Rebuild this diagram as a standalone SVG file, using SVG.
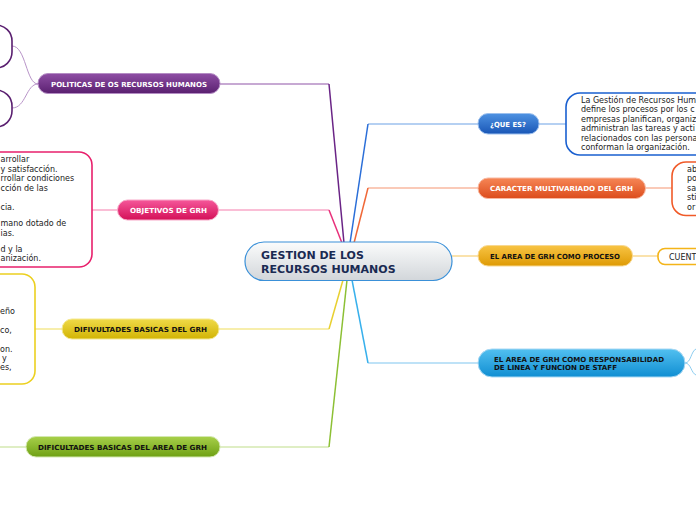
<svg xmlns="http://www.w3.org/2000/svg" width="696" height="520" viewBox="0 0 696 520">
<defs>
<linearGradient id="gC" x1="0" y1="0" x2="0" y2="1"><stop offset="0" stop-color="#fbfcfc"/><stop offset="1" stop-color="#d2d6da"/></linearGradient>
<linearGradient id="gPu" x1="0" y1="0" x2="0" y2="1"><stop offset="0" stop-color="#8e4ea4"/><stop offset="1" stop-color="#5a2070"/></linearGradient>
<linearGradient id="gPi" x1="0" y1="0" x2="0" y2="1"><stop offset="0" stop-color="#f5579a"/><stop offset="1" stop-color="#d41058"/></linearGradient>
<linearGradient id="gYe" x1="0" y1="0" x2="0" y2="1"><stop offset="0" stop-color="#f0da48"/><stop offset="1" stop-color="#d2b404"/></linearGradient>
<linearGradient id="gGr" x1="0" y1="0" x2="0" y2="1"><stop offset="0" stop-color="#a8d04a"/><stop offset="1" stop-color="#6ea014"/></linearGradient>
<linearGradient id="gBl" x1="0" y1="0" x2="0" y2="1"><stop offset="0" stop-color="#4e92e2"/><stop offset="1" stop-color="#1956b6"/></linearGradient>
<linearGradient id="gOr" x1="0" y1="0" x2="0" y2="1"><stop offset="0" stop-color="#f68656"/><stop offset="1" stop-color="#dc4c1c"/></linearGradient>
<linearGradient id="gAm" x1="0" y1="0" x2="0" y2="1"><stop offset="0" stop-color="#f8c444"/><stop offset="1" stop-color="#de9a04"/></linearGradient>
<linearGradient id="gSk" x1="0" y1="0" x2="0" y2="1"><stop offset="0" stop-color="#52c0f0"/><stop offset="1" stop-color="#108ed2"/></linearGradient>
</defs>
<style>
.lbl{font-family:"DejaVu Sans",Verdana,sans-serif;font-weight:bold;font-size:7px;}
.w{fill:#ffffff;}
.k{fill:#111111;}
.body{font-family:"DejaVu Sans",Verdana,sans-serif;font-size:8px;fill:#222222;}
.ln{fill:none;stroke-width:1.5;}
.thin{fill:none;stroke-width:1;}
.leaf{fill:#ffffff;stroke-width:1.6;}
</style>
<g id="connectors">
<path class="ln" stroke="#b48cc4" d="M220,84 H329"/>
<path class="ln" stroke="#6a2486" d="M329,84 L344,243"/>
<path class="ln" stroke="#f8a8c8" d="M218,210 H329"/>
<path class="ln" stroke="#e8307a" d="M329,210 L342,243"/>
<path class="ln" stroke="#f4e890" d="M218,329 H329"/>
<path class="ln" stroke="#e8d030" d="M329,329 L343,280"/>
<path class="ln" stroke="#d4e8b0" d="M220,447 H329"/>
<path class="ln" stroke="#8cc034" d="M329,447 L347,280"/>
<path class="ln" stroke="#9cc0ee" d="M478,124 H368"/>
<path class="ln" stroke="#2a6ed8" d="M368,124 L350,243"/>
<path class="ln" stroke="#f8b8a0" d="M478,188 H368"/>
<path class="ln" stroke="#f06838" d="M368,188 L354,243"/>
<path class="ln" stroke="#f8d890" d="M452,256 H478"/>
<path class="ln" stroke="#a8d8f4" d="M478,363 H368"/>
<path class="ln" stroke="#38b0ec" d="M368,363 L352,280"/>
<path class="thin" stroke="#b894c8" d="M38,84 C26,84 26,46 12,46"/>
<path class="thin" stroke="#b894c8" d="M38,84 C26,84 26,108 12,108"/>
<path class="ln" stroke="#f8a8c8" d="M118,210 H92"/>
<path class="ln" stroke="#f4e890" d="M62,329 H35"/>
<path class="ln" stroke="#d4e8b0" d="M26,447 H0"/>
<path class="ln" stroke="#9cc0ee" d="M539,124 H566"/>
<path class="ln" stroke="#f8b8a0" d="M645,188 H672"/>
<path class="ln" stroke="#f8d890" d="M632,256 H658"/>
<path class="thin" stroke="#8ccdf0" d="M685,363 C691,363 691,351 696,349"/>
<path class="thin" stroke="#8ccdf0" d="M685,363 C691,363 691,373 696,375"/>
</g>
<g id="center">
<rect x="245" y="242" width="207" height="38.5" rx="19" fill="url(#gC)" stroke="#3a90d8" stroke-width="1.2"/>
<text x="261" y="259" font-family="DejaVu Sans,Verdana,sans-serif" font-weight="bold" font-size="11" fill="#1a2a52">GESTION DE LOS</text>
<text x="261" y="272.5" font-family="DejaVu Sans,Verdana,sans-serif" font-weight="bold" font-size="11" fill="#1a2a52">RECURSOS HUMANOS</text>
</g>
<g id="politicas">
<rect x="38" y="73.5" width="182" height="20" rx="10" fill="url(#gPu)" stroke="#b48cc4" stroke-width="1"/>
<text class="lbl w" x="129" y="86.5" text-anchor="middle" textLength="156" lengthAdjust="spacingAndGlyphs">POLITICAS DE OS RECURSOS HUMANOS</text>
</g>
<g id="politicas-leaf1"><rect class="leaf" x="-40" y="25" width="52" height="43" rx="16" stroke="#5a1f70"/></g>
<g id="politicas-leaf2"><rect class="leaf" x="-40" y="90" width="52" height="37" rx="16" stroke="#5a1f70"/></g>
<g id="objetivos">
<rect x="117.5" y="200" width="101" height="20" rx="10" fill="url(#gPi)" stroke="#f8a8c8" stroke-width="1"/>
<text class="lbl w" x="168.5" y="213" text-anchor="middle" textLength="77" lengthAdjust="spacingAndGlyphs">OBJETIVOS DE GRH</text>
</g>
<g id="objetivos-leaf">
<rect class="leaf" x="-30" y="152" width="122" height="115" rx="13" stroke="#e8206c"/>
<text class="body" x="0.5" y="162">arrollar</text>
<text class="body" x="0.5" y="171.5">y satisfacción.</text>
<text class="body" x="0.5" y="181">rrollar condiciones</text>
<text class="body" x="0.5" y="190.5">cción de las</text>
<text class="body" x="0.5" y="209.5">cia.</text>
<text class="body" x="0.5" y="226">mano dotado de</text>
<text class="body" x="0.5" y="235.5">ias.</text>
<text class="body" x="0.5" y="251.5">d y la</text>
<text class="body" x="0.5" y="261">anización.</text>
</g>
<g id="difivultades">
<rect x="62" y="319" width="157" height="20" rx="10" fill="url(#gYe)" stroke="#f4e890" stroke-width="1"/>
<text class="lbl k" x="140.5" y="332" text-anchor="middle" textLength="133" lengthAdjust="spacingAndGlyphs">DIFIVULTADES BASICAS DEL GRH</text>
</g>
<g id="difivultades-leaf">
<rect class="leaf" x="-40" y="274" width="75" height="110" rx="13" stroke="#ecd020"/>
<text class="body" x="0" y="313.5">eño</text>
<text class="body" x="0" y="333">co,</text>
<text class="body" x="0" y="352">on.</text>
<text class="body" x="2" y="360.5">y</text>
<text class="body" x="0" y="370">es,</text>
</g>
<g id="dificultades-area">
<rect x="26" y="436.5" width="194" height="20.5" rx="10" fill="url(#gGr)" stroke="#d4e8b0" stroke-width="1"/>
<text class="lbl k" x="122.5" y="449.5" text-anchor="middle" textLength="169" lengthAdjust="spacingAndGlyphs">DIFICULTADES BASICAS DEL AREA DE GRH</text>
</g>
<g id="que-es">
<rect x="478" y="113.5" width="61" height="20.5" rx="10" fill="url(#gBl)" stroke="#9cc0ee" stroke-width="1"/>
<text class="lbl w" x="508" y="126.5" text-anchor="middle" textLength="36" lengthAdjust="spacingAndGlyphs">¿QUE ES?</text>
</g>
<g id="que-es-leaf">
<rect class="leaf" x="566" y="93" width="160" height="62" rx="14" stroke="#1a60d0"/>
<text class="body" x="581" y="102.5">La Gestión de Recursos Hum</text>
<text class="body" x="581" y="112">define los procesos por los c</text>
<text class="body" x="581" y="121.5">empresas planifican, organiz</text>
<text class="body" x="581" y="131">administran las tareas y acti</text>
<text class="body" x="581" y="140.5">relacionados con las persona</text>
<text class="body" x="581" y="150">conforman la organización.</text>
</g>
<g id="caracter">
<rect x="478" y="178" width="167.5" height="20.5" rx="10" fill="url(#gOr)" stroke="#f8b8a0" stroke-width="1"/>
<text class="lbl w" x="561.5" y="191" text-anchor="middle" textLength="143" lengthAdjust="spacingAndGlyphs">CARACTER MULTIVARIADO DEL GRH</text>
</g>
<g id="caracter-leaf">
<rect class="leaf" x="672" y="162" width="60" height="53.5" rx="14" stroke="#f05a28"/>
<text class="body" x="687" y="171.5">ab</text>
<text class="body" x="687" y="181">po</text>
<text class="body" x="687" y="190.5">sa</text>
<text class="body" x="687" y="200">sti</text>
<text class="body" x="687" y="209.5">or</text>
</g>
<g id="proceso">
<rect x="478" y="245.5" width="154.5" height="20.5" rx="10" fill="url(#gAm)" stroke="#f8d890" stroke-width="1"/>
<text class="lbl k" x="555" y="258.5" text-anchor="middle" textLength="130" lengthAdjust="spacingAndGlyphs">EL AREA DE GRH COMO PROCESO</text>
</g>
<g id="proceso-leaf">
<rect class="leaf" x="658" y="248.5" width="60" height="16" rx="7" stroke="#f4b418"/>
<text class="body" x="669" y="260">CUENT</text>
</g>
<g id="staff">
<rect x="478" y="349" width="207" height="28" rx="14" fill="url(#gSk)" stroke="#a8d8f4" stroke-width="1"/>
<text class="lbl k" x="494" y="361.5" textLength="170" lengthAdjust="spacingAndGlyphs">EL AREA DE GRH COMO RESPONSABILIDAD</text>
<text class="lbl k" x="494" y="369.5" textLength="123" lengthAdjust="spacingAndGlyphs">DE LINEA Y FUNCION DE STAFF</text>
</g>
</svg>
